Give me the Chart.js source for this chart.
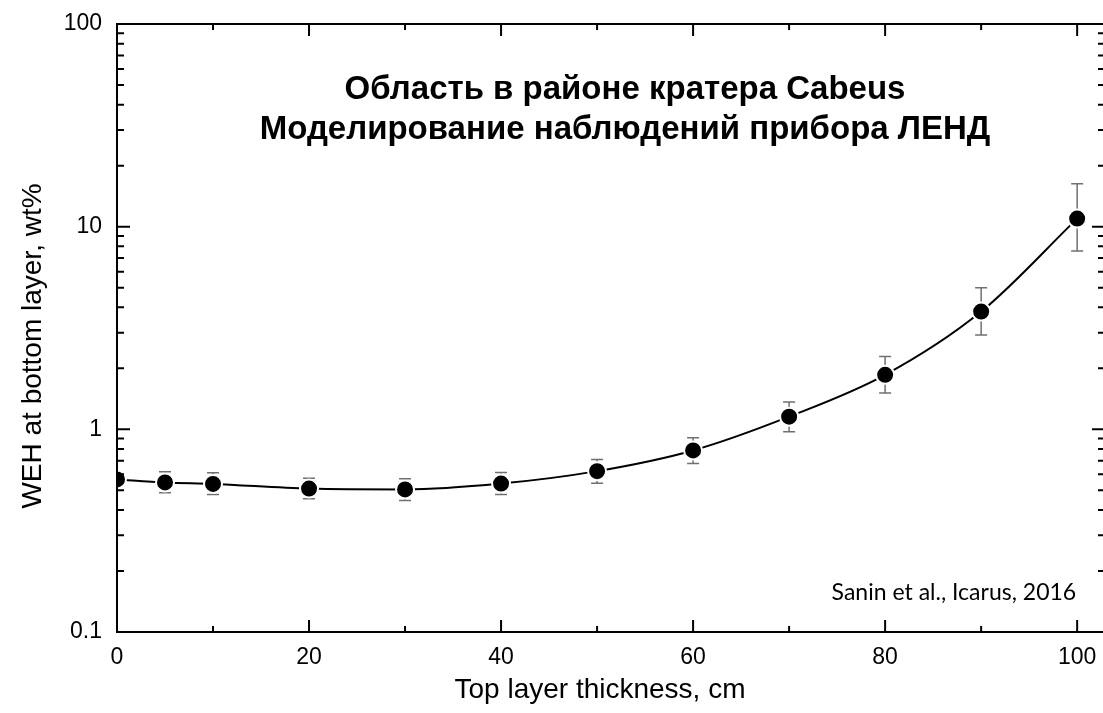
<!DOCTYPE html>
<html>
<head>
<meta charset="utf-8">
<script src="https://cdn.jsdelivr.net/npm/chart.js@4/dist/chart.umd.min.js"></script>
<style>
  html, body { margin: 0; padding: 0; background: #fff; overflow: hidden; }
  #wrap { width: 1105px; height: 713px; }
</style>
</head>
<body>
<div id="wrap"><canvas id="weh"></canvas></div>
<script>
// Data (Sanin et al., Icarus, 2016)
var thickness = [0, 5, 10, 20, 30, 40, 50, 60, 70, 80, 90, 100];
var weh       = [0.566, 0.547, 0.538, 0.51, 0.505, 0.54, 0.622, 0.787, 1.155, 1.857, 3.81, 10.96];
var wehHigh   = [null, 0.618, 0.61, 0.574, 0.57, 0.613, 0.71, 0.91, 1.365, 2.29, 4.99, 16.3];
var wehLow    = [null, 0.487, 0.477, 0.454, 0.445, 0.477, 0.542, 0.679, 0.974, 1.51, 2.92, 7.58];

var xMajorTicks = [0, 20, 40, 60, 80, 100];
var xMinorTicks = [10, 30, 50, 70, 90];
var yMajorTicks = [0.1, 1, 10, 100];
var yMinorTicks = [0.2, 0.3, 0.4, 0.5, 0.6, 0.7, 0.8, 0.9,
                   2, 3, 4, 5, 6, 7, 8, 9,
                   20, 30, 40, 50, 60, 70, 80, 90];

var titleLines = ['Область в районе кратера Cabeus', 'Моделирование наблюдений прибора ЛЕНД'];
var sourceNote = 'Sanin et al., Icarus, 2016';
var xTitle = 'Top layer thickness, cm';
var yTitle = 'WEH at bottom layer, wt%';

var ARIAL = '"Liberation Sans", Arial, sans-serif';

var points = thickness.map(function( t, i ) {
	return { x: t, y: weh[i] };
});

// Error bars, drawn under the markers
var errorBars = {
	id: 'errorBars',
	beforeDatasetsDraw: function( chart ) {
		var ctx = chart.ctx;
		var xs = chart.scales.x;
		var ys = chart.scales.y;
		var area = chart.chartArea;
		ctx.save();
		ctx.beginPath();
		ctx.rect( area.left, area.top, area.right - area.left, area.bottom - area.top );
		ctx.clip();
		ctx.strokeStyle = '#707070';
		ctx.lineWidth = 1.5;
		for ( var i = 0; i < thickness.length; i++ ) {
			if ( wehHigh[i] === null ) {
				continue;
			}
			var px = xs.getPixelForValue( thickness[i] );
			var top = ys.getPixelForValue( wehHigh[i] );
			var bot = ys.getPixelForValue( wehLow[i] );
			ctx.beginPath();
			ctx.moveTo( px, top );
			ctx.lineTo( px, bot );
			ctx.moveTo( px - 6, top );
			ctx.lineTo( px + 6, top );
			ctx.moveTo( px - 6, bot );
			ctx.lineTo( px + 6, bot );
			ctx.stroke();
		}
		ctx.restore();
	}
};

// Frame with inward ticks on all four sides, plus the texts
var frame = {
	id: 'frame',
	afterDatasetsDraw: function( chart ) {
		var ctx = chart.ctx;
		var xs = chart.scales.x;
		var ys = chart.scales.y;
		var a = chart.chartArea;
		ctx.save();
		ctx.strokeStyle = '#000';
		ctx.lineWidth = 2;
		ctx.beginPath();
		ctx.rect( a.left, a.top, a.right - a.left, a.bottom - a.top );
		ctx.stroke();

		ctx.beginPath();
		function xTick( v, len ) {
			var px = xs.getPixelForValue( v );
			ctx.moveTo( px, a.bottom );
			ctx.lineTo( px, a.bottom - len );
			ctx.moveTo( px, a.top );
			ctx.lineTo( px, a.top + len );
		}
		function yTick( v, len ) {
			var py = ys.getPixelForValue( v );
			ctx.moveTo( a.left, py );
			ctx.lineTo( a.left + len, py );
			ctx.moveTo( a.right, py );
			ctx.lineTo( a.right - len, py );
		}
		xMajorTicks.forEach( function( v ) { xTick( v, 12 ); } );
		xMinorTicks.forEach( function( v ) { xTick( v, 6 ); } );
		yMajorTicks.forEach( function( v ) { yTick( v, 13 ); } );
		yMinorTicks.forEach( function( v ) { yTick( v, 7 ); } );
		ctx.stroke();

		// Title inside the plot
		var cx = ( a.left + a.right ) / 2 + 14;
		ctx.fillStyle = '#000';
		ctx.textAlign = 'center';
		ctx.textBaseline = 'alphabetic';
		ctx.font = 'bold 33px ' + ARIAL;
		ctx.fillText( titleLines[0], cx, a.top + 75 );
		ctx.fillText( titleLines[1], cx, a.top + 115 );

		// Source note
		ctx.textAlign = 'right';
		ctx.font = '23px Lato, "Open Sans", sans-serif';
		ctx.fillText( sourceNote, xs.getPixelForValue( 100 ) - 1, a.bottom - 32 );

		// Axis titles
		ctx.textAlign = 'center';
		ctx.textBaseline = 'middle';
		ctx.font = '28px ' + ARIAL;
		ctx.fillText( xTitle, ( a.left + a.right ) / 2 - 11, 690 );
		ctx.save();
		ctx.translate( 33, ( a.top + a.bottom ) / 2 + 18 );
		ctx.rotate( -Math.PI / 2 );
		ctx.fillText( yTitle, 0, 0 );
		ctx.restore();
		ctx.restore();
	}
};

new Chart( document.getElementById( 'weh' ), {
	type: 'line',
	data: {
		datasets: [{
			data: points,
			borderColor: '#000',
			borderWidth: 2,
			cubicInterpolationMode: 'monotone',
			pointRadius: 9,
			pointHoverRadius: 9,
			pointBackgroundColor: '#000',
			pointBorderColor: '#fff',
			pointBorderWidth: 2,
			clip: 0,
			fill: false
		}]
	},
	options: {
		responsive: true,
		maintainAspectRatio: false,
		animation: false,
		events: [],
		layout: {
			autoPadding: false,
			padding: { top: 24, right: 0, left: 0, bottom: 0 }
		},
		plugins: {
			legend: { display: false },
			tooltip: { enabled: false },
			title: { display: false }
		},
		scales: {
			x: {
				type: 'linear',
				min: 0,
				max: 102.9,
				afterFit: function( scale ) {
					scale.height = 81;
					scale.paddingLeft = 0;
					scale.paddingRight = 0;
				},
				grid: { display: false, drawTicks: false },
				border: { display: false },
				ticks: {
					stepSize: 10,
					includeBounds: false,
					padding: 12,
					autoSkip: false,
					maxRotation: 0,
					color: '#000',
					font: { family: ARIAL, size: 23 },
					callback: function( v ) {
						return xMajorTicks.indexOf( v ) >= 0 ? String( v ) : '';
					}
				}
			},
			y: {
				type: 'logarithmic',
				min: 0.1,
				max: 100,
				afterFit: function( scale ) {
					scale.width = 117;
					scale.paddingTop = 0;
					scale.paddingBottom = 0;
				},
				grid: { display: false, drawTicks: false },
				border: { display: false },
				ticks: {
					padding: 15,
					color: '#000',
					autoSkip: false,
					font: { family: ARIAL, size: 23 },
					callback: function( v ) {
						return yMajorTicks.indexOf( v ) >= 0 ? String( v ) : '';
					}
				}
			}
		}
	},
	plugins: [ errorBars, frame ]
} );
</script>
</body>
</html>
